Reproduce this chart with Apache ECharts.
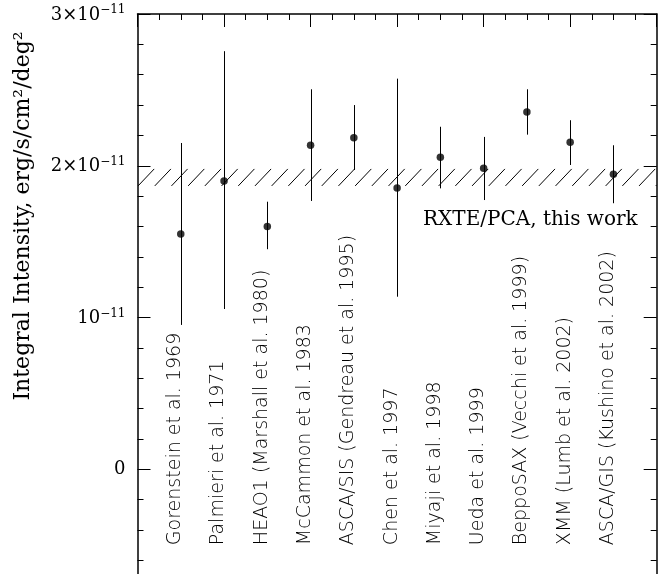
<!DOCTYPE html>
<html>
<head>
<meta charset="utf-8">
<script src="https://cdn.jsdelivr.net/npm/echarts@6/dist/echarts.min.js"></script>
<style>
html,body{margin:0;padding:0;background:#fff;}
#chart{width:660px;height:574px;}
</style>
</head>
<body>
<div id="chart"></div>
<script>
// ---- data (intensities in units of 1e-11 erg/s/cm^2/deg^2) ----
const categories = [
  'Gorenstein et al. 1969',
  'Palmieri et al. 1971',
  'HEAO1 (Marshall et al. 1980)',
  'McCammon et al. 1983',
  'ASCA/SIS (Gendreau et al. 1995)',
  'Chen et al. 1997',
  'Miyaji et al. 1998',
  'Ueda et al. 1999',
  'BeppoSAX (Vecchi et al. 1999)',
  'XMM (Lumb et al. 2002)',
  'ASCA/GIS (Kushino et al. 2002)'
];
const positions = [1, 2, 3, 4, 5, 6, 7, 8, 9, 10, 11];
const intensity = [1.55, 1.90, 1.60, 2.135, 2.185, 1.853, 2.056, 1.983, 2.354, 2.155, 1.944];
const errHigh   = [2.15, 2.755, 1.763, 2.504, 2.40, 2.574, 2.257, 2.19, 2.504, 2.30, 2.135];
const errLow    = [0.951, 1.056, 1.45, 1.768, 1.972, 1.137, 1.851, 1.774, 2.205, 2.005, 1.753];
const rxteBand  = [1.867, 1.979];
const rxteLabel = 'RXTE/PCA, this work';
const yTickValues = [0, 1, 2, 3];
const yTickLabels = ['{z|0}', '{m|10}{s|−11}', '{m|2×10}{s|−11}', '{m|3×10}{s|−11}'];
const yAxisTitle = 'Integral Intensity, erg/s/cm\u00B2/deg\u00B2';

// ---- layout constants ----
const X_MIN = 0, X_MAX = 12;
const Y_MIN = -1, Y_MAX = 3;
const LABEL_START = -0.5;   // y value where the rotated reference labels start

const chart = echarts.init(document.getElementById('chart'), null, {renderer: 'canvas'});

const serif = "'DejaVu Serif', serif";

const axisCommon = {
  type: 'value',
  axisLine: {show: true, onZero: false, lineStyle: {color: '#000', width: 1.5}},
  axisTick: {show: true, inside: true, length: 13, lineStyle: {color: '#000', width: 1}},
  minorTick: {show: true, length: 6, lineStyle: {color: '#000', width: 1}},
  splitLine: {show: false},
  minorSplitLine: {show: false}
};

const option = {
  animation: false,
  backgroundColor: '#fff',
  grid: {left: 137.5, top: 14, width: 519.2, height: 607, containLabel: false, outerBoundsMode: 'none'},
  xAxis: [
    Object.assign({}, axisCommon, {
      position: 'top', min: X_MIN, max: X_MAX, interval: 2,
      minorTick: Object.assign({}, axisCommon.minorTick, {splitNumber: 4}),
      axisLabel: {show: false}
    }),
    Object.assign({}, axisCommon, {
      position: 'bottom', min: X_MIN, max: X_MAX, interval: 2,
      minorTick: Object.assign({}, axisCommon.minorTick, {splitNumber: 4}),
      axisLabel: {show: false}
    })
  ],
  yAxis: [
    Object.assign({}, axisCommon, {
      position: 'left', min: Y_MIN, max: Y_MAX, interval: 1,
      minorTick: Object.assign({}, axisCommon.minorTick, {splitNumber: 5}),
      axisLabel: {
        show: true, margin: 12, color: '#000',
        formatter: function (v) {
          const i = yTickValues.indexOf(v);
          return i >= 0 ? yTickLabels[i] : '';
        },
        fontFamily: serif, fontSize: 17,
        rich: {
          z: {fontFamily: serif, fontSize: 18, color: '#000', lineHeight: 20},
          m: {fontFamily: serif, fontSize: 18, color: '#000', verticalAlign: 'bottom', lineHeight: 20},
          s: {fontFamily: serif, fontSize: 12, color: '#000', verticalAlign: 'top', lineHeight: 11}
        }
      }
    }),
    Object.assign({}, axisCommon, {
      position: 'right', min: Y_MIN, max: Y_MAX, interval: 1,
      minorTick: Object.assign({}, axisCommon.minorTick, {splitNumber: 5}),
      axisLabel: {show: false}
    })
  ],
  graphic: [
    {
      type: 'text', x: 23, y: 216, rotation: Math.PI / 2,
      style: {text: yAxisTitle, font: "22px 'DejaVu Serif', serif", fill: '#000', align: 'center', verticalAlign: 'middle'}
    }
  ],
  series: [
    // hatched RXTE/PCA band
    {
      type: 'custom', xAxisIndex: 0, yAxisIndex: 0, silent: true, z: 1,
      data: [[rxteBand[0], rxteBand[1]]],
      renderItem: function (params, api) {
        const lo = api.value(0), hi = api.value(1);
        const pL = api.coord([X_MIN, lo]);
        const pR = api.coord([X_MAX, hi]);
        const x0 = pL[0], x1 = pR[0], yb = pL[1], yt = pR[1];
        const h = yb - yt;
        const dx = h * 0.95;
        const step = 16.7;
        const children = [];
        for (let xs = x0 - dx; xs < x1; xs += step) {
          let ax = xs, ay = yb, bx = xs + dx, by = yt;
          if (ax < x0) { const t = (x0 - ax) / dx; ax = x0; ay = yb - t * h; }
          if (bx > x1) { const t = (bx - x1) / dx; bx = x1; by = yt + t * h; }
          if (bx <= ax) continue;
          children.push({type: 'line', shape: {x1: ax, y1: ay, x2: bx, y2: by}, style: {stroke: '#000', lineWidth: 1}});
        }
        // label under band
        const pt = api.coord([X_MAX, lo]);
        children.push({
          type: 'text', x: pt[0] - 19, y: pt[1] + 34,
          style: {text: rxteLabel, font: "20px 'DejaVu Serif', serif", fill: '#000', align: 'right', verticalAlign: 'middle'}
        });
        return {type: 'group', children: children};
      }
    },
    // error bars
    {
      type: 'custom', xAxisIndex: 0, yAxisIndex: 0, silent: true, z: 2,
      data: positions.map((p, i) => [p, errLow[i], errHigh[i]]),
      renderItem: function (params, api) {
        const a = api.coord([api.value(0), api.value(1)]);
        const b = api.coord([api.value(0), api.value(2)]);
        const x = Math.round(a[0]) + 0.5;
        return {type: 'line', shape: {x1: x, y1: a[1], x2: x, y2: b[1]}, style: {stroke: '#000', lineWidth: 1}};
      }
    },
    // points
    {
      type: 'scatter', xAxisIndex: 0, yAxisIndex: 0, silent: true, z: 3,
      symbol: 'circle', symbolSize: 7.5,
      itemStyle: {color: '#000'},
      data: positions.map((p, i) => [p, intensity[i]])
    },
    // rotated reference labels
    {
      type: 'custom', xAxisIndex: 0, yAxisIndex: 0, silent: true, z: 2,
      data: positions.map((p, i) => [p, LABEL_START, i]),
      renderItem: function (params, api) {
        const p = api.coord([api.value(0), api.value(1)]);
        const idx = api.value(2);
        return {
          type: 'text', x: p[0] + 4, y: p[1], rotation: Math.PI / 2,
          style: {text: categories[idx], font: "200 19px 'DejaVu Sans', sans-serif", fill: '#000', align: 'left', verticalAlign: 'bottom'}
        };
      }
    }
  ]
};
chart.setOption(option);
</script>
</body>
</html>
